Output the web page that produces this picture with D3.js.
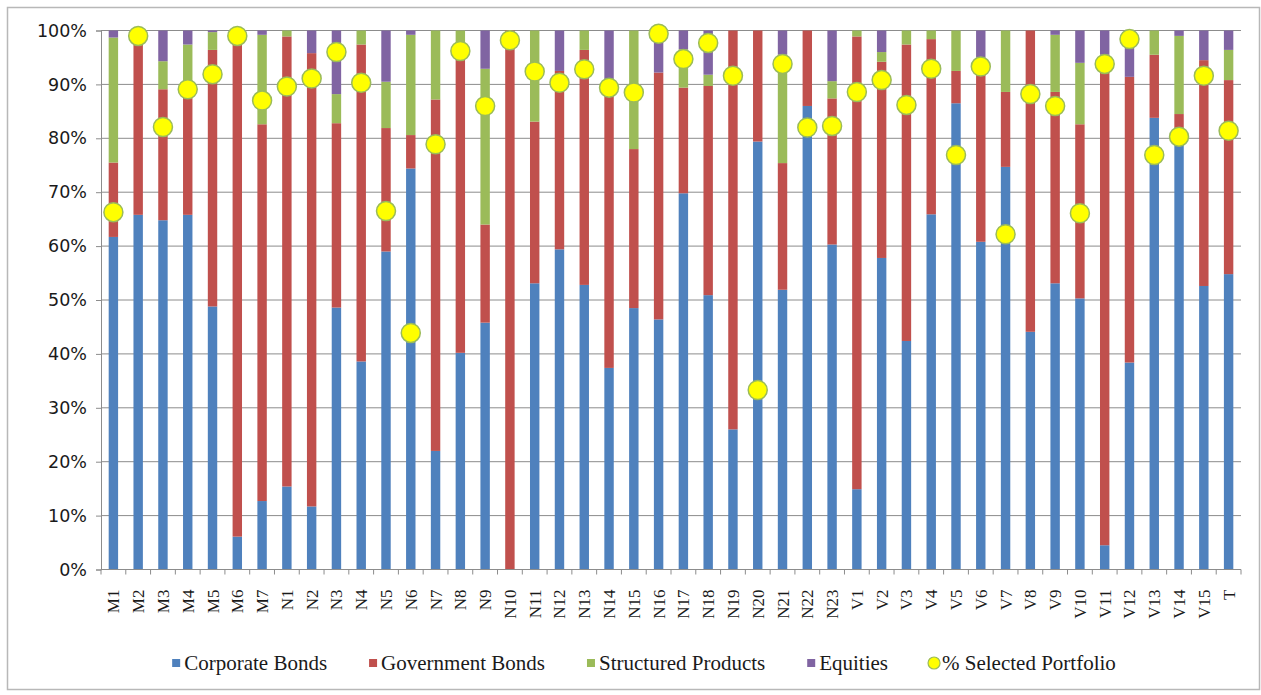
<!DOCTYPE html>
<html>
<head>
<meta charset="utf-8">
<script src="https://cdn.jsdelivr.net/npm/d3@7/dist/d3.min.js"></script>
<style>
  html, body { margin: 0; padding: 0; background: #ffffff; }
  svg { display: block; }
</style>
</head>
<body>
<svg id="chart" width="1261" height="695"></svg>
<script>
// Portfolio categories along the x axis
const categories = ["M1","M2","M3","M4","M5","M6","M7",
  "N1","N2","N3","N4","N5","N6","N7","N8","N9","N10","N11","N12","N13","N14","N15","N16","N17","N18","N19","N20","N21","N22","N23",
  "V1","V2","V3","V4","V5","V6","V7","V8","V9","V10","V11","V12","V13","V14","V15","T"];

// Asset-class shares per portfolio (percent of total)
const corporateBonds = [61.7,65.8,64.8,65.8,48.8,6.1,12.7,
  15.4,11.7,48.6,38.6,59.0,74.4,22.0,40.2,45.8,0,53.1,59.4,52.8,37.4,48.5,46.4,69.8,50.9,26.0,79.4,51.9,86.0,60.3,
  14.9,57.8,42.4,65.9,86.5,60.8,74.7,44.1,53.1,50.3,4.5,38.4,83.8,79.5,52.6,54.8];
const governmentBonds = [13.8,34.2,24.3,23.2,47.6,93.9,69.9,
  83.5,84.1,34.2,58.8,22.9,6.2,65.2,54.8,18.2,100,30.0,33.1,43.6,53.1,29.5,45.8,19.6,38.8,74.0,20.6,23.5,14.0,27.1,
  84.0,36.4,55.0,32.5,6.0,34.2,13.9,55.9,35.5,32.3,91.0,53.0,11.7,5.0,41.9,36.0];
const structuredProducts = [23.2,0,5.2,8.4,3.3,0,16.6,
  1.1,0,5.4,2.6,8.6,18.6,12.8,5.0,28.9,0,16.9,0,3.6,0,22.0,0,7.1,2.1,0,0,20.1,0,3.2,
  1.1,1.8,2.6,1.6,7.5,0,11.4,0,10.6,11.4,0,0,4.5,14.5,0,5.6];
const equities = [1.3,0,5.7,2.6,0.3,0,0.8,
  0,4.2,11.8,0,9.5,0.8,0,0,7.1,0,0,7.5,0,9.5,0,7.8,3.5,8.2,0,0,4.5,0,9.4,
  0,4.0,0,0,0,5.0,0,0,0.8,6.0,4.5,8.6,0,1.0,5.5,3.6];

// Share of each portfolio that was selected
const selectedPortfolio = [66.3,99.0,82.1,89.1,91.9,99.0,87.0,
  89.6,91.1,96.0,90.3,66.5,43.9,78.9,96.2,86.0,98.2,92.4,90.3,92.8,89.4,88.5,99.4,94.7,97.7,91.6,33.3,93.8,82.0,82.3,
  88.6,90.8,86.2,92.9,76.9,93.3,62.2,88.2,86.0,66.1,93.8,98.4,76.9,80.3,91.6,81.4];

const yTicks = [0,10,20,30,40,50,60,70,80,90,100];

const seriesNames = ["Corporate Bonds","Government Bonds","Structured Products","Equities"];
const seriesColors = ["#4F81BD","#C0504D","#9BBB59","#8064A2"];
const dotName = "% Selected Portfolio";

const rows = categories.map((c, i) => ({
  cat: c,
  "Corporate Bonds": corporateBonds[i],
  "Government Bonds": governmentBonds[i],
  "Structured Products": structuredProducts[i],
  "Equities": equities[i],
  sel: selectedPortfolio[i]
}));

const svg = d3.select("#chart");

// Outer chart frame
svg.append("rect")
  .attr("x", 7.5).attr("y", 7.5)
  .attr("width", 1252).attr("height", 682)
  .attr("fill", "#ffffff")
  .attr("stroke", "#b8b8b8").attr("stroke-width", 1.5);

const plot = { left: 101, right: 1241, top: 30.5, bottom: 569.5 };

const x = d3.scaleBand()
  .domain(categories)
  .range([plot.left, plot.right])
  .paddingInner(0.62)
  .paddingOuter(0.31);

const xStep = d3.scaleBand().domain(categories).range([plot.left, plot.right]).padding(0);

const y = d3.scaleLinear().domain([0, 100]).range([plot.bottom, plot.top]);

// Horizontal gridlines
svg.append("g")
  .selectAll("line")
  .data(yTicks.filter(t => t > 0))
  .join("line")
  .attr("x1", plot.left).attr("x2", plot.right)
  .attr("y1", d => y(d)).attr("y2", d => y(d))
  .attr("stroke", "#8c8c8c").attr("stroke-width", 1);

// Stacked bars
const stack = d3.stack().keys(seriesNames);
const stacked = stack(rows);

svg.append("g")
  .selectAll("g")
  .data(stacked)
  .join("g")
  .attr("fill", (d, i) => seriesColors[i])
  .selectAll("rect")
  .data(d => d)
  .join("rect")
  .attr("x", d => x(d.data.cat))
  .attr("width", x.bandwidth())
  .attr("y", d => y(Math.min(d[1], 100)))
  .attr("height", d => Math.max(0, y(d[0]) - y(Math.min(d[1], 100))));

// Y axis
const yAxis = d3.axisLeft(y)
  .tickValues(yTicks)
  .tickFormat(d => d + "%")
  .tickSize(5)
  .tickPadding(9);

const gy = svg.append("g")
  .attr("transform", `translate(${plot.left},0)`)
  .call(yAxis);
gy.select(".domain").attr("stroke", "#8c8c8c");
gy.selectAll(".tick line").attr("stroke", "#8c8c8c");
gy.selectAll(".tick text")
  .attr("font-family", "'DejaVu Sans', Verdana, sans-serif")
  .attr("font-size", 17.5)
  .attr("fill", "#1a1a1a");

// X axis baseline with boundary ticks
const gx = svg.append("g");
gx.append("line")
  .attr("x1", plot.left).attr("x2", plot.right)
  .attr("y1", plot.bottom).attr("y2", plot.bottom)
  .attr("stroke", "#8c8c8c");
gx.selectAll("line.bound")
  .data(categories.concat(["__end"]))
  .join("line")
  .attr("class", "bound")
  .attr("x1", (d, i) => i < categories.length ? xStep(d) : plot.right)
  .attr("x2", (d, i) => i < categories.length ? xStep(d) : plot.right)
  .attr("y1", plot.bottom).attr("y2", plot.bottom + 5)
  .attr("stroke", "#8c8c8c");

gx.selectAll("text")
  .data(categories)
  .join("text")
  .attr("transform", d => `translate(${x(d) + x.bandwidth() / 2 + 6},${plot.bottom + 20}) rotate(-90)`)
  .attr("text-anchor", "end")
  .attr("font-family", "'Liberation Serif', 'Times New Roman', serif")
  .attr("font-size", 17)
  .attr("fill", "#1a1a1a")
  .text(d => d);

// Selected-portfolio markers
svg.append("g")
  .selectAll("circle")
  .data(rows)
  .join("circle")
  .attr("cx", d => x(d.cat) + x.bandwidth() / 2)
  .attr("cy", d => y(d.sel))
  .attr("r", 9.5)
  .attr("fill", "#FFFF00")
  .attr("stroke", "#9BBB59")
  .attr("stroke-width", 1.5);

// Legend
const legendItems = seriesNames.map((n, i) => ({ name: n, color: seriesColors[i], type: "square" }))
  .concat([{ name: dotName, type: "dot" }]);

const legend = svg.append("g").attr("transform", "translate(0,663)");
const gap = 42, markerW = 12;
const items = legend.selectAll("g")
  .data(legendItems)
  .join("g");

items.append("text")
  .attr("x", markerW)
  .attr("y", 0)
  .attr("dy", "0.35em")
  .attr("font-family", "'Liberation Serif', 'Times New Roman', serif")
  .attr("font-size", 21)
  .attr("fill", "#1a1a1a")
  .text(d => d.name);

items.each(function(d) {
  const g = d3.select(this);
  if (d.type === "square") {
    g.append("rect").attr("x", 0).attr("y", -4).attr("width", 8).attr("height", 8).attr("fill", d.color);
  } else {
    g.append("circle").attr("cx", 4).attr("cy", 0).attr("r", 6)
      .attr("fill", "#FFFF00").attr("stroke", "#9BBB59").attr("stroke-width", 1.2);
  }
});

const widths = [];
items.each(function() { widths.push(this.getBBox().width); });
const total = d3.sum(widths) + gap * (widths.length - 1);
let cursor = 645 - total / 2;
items.attr("transform", (d, i) => {
  const t = `translate(${cursor},0)`;
  cursor += widths[i] + gap;
  return t;
});
</script>
</body>
</html>
